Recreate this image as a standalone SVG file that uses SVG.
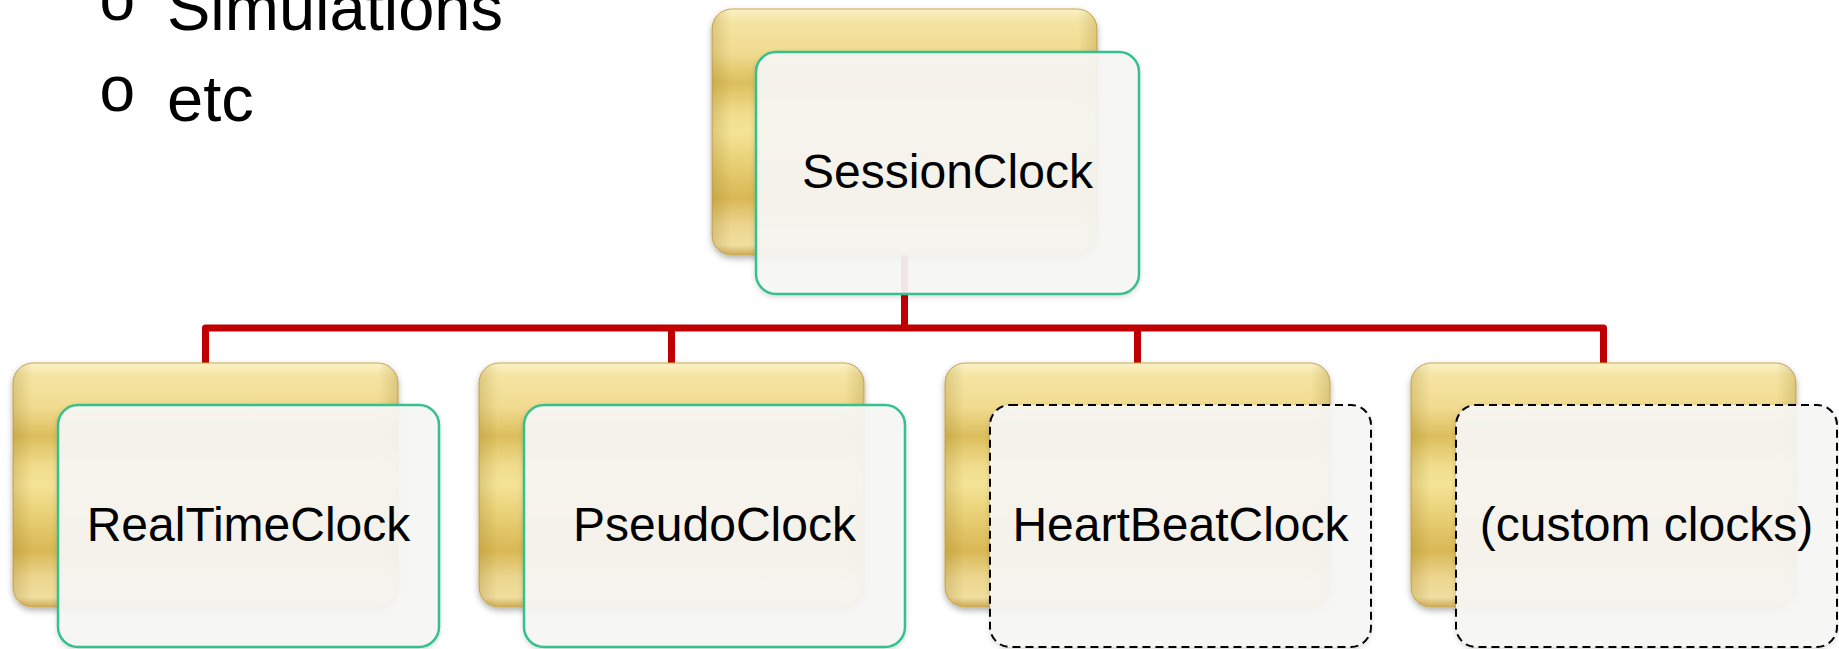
<svg xmlns="http://www.w3.org/2000/svg" width="1839" height="649" viewBox="0 0 1839 649">
<defs>
<linearGradient id="goldV" x1="0" y1="0" x2="0" y2="1">
<stop offset="0" stop-color="#fbf2c6"/>
<stop offset="0.05" stop-color="#f5e4a2"/>
<stop offset="0.18" stop-color="#f0db90"/>
<stop offset="0.30" stop-color="#dcbe5c"/>
<stop offset="0.42" stop-color="#f0dc8c"/>
<stop offset="0.50" stop-color="#f4e396"/>
<stop offset="0.63" stop-color="#e8ce74"/>
<stop offset="0.77" stop-color="#d9b855"/>
<stop offset="0.88" stop-color="#ecd68f"/>
<stop offset="0.96" stop-color="#f0dea0"/>
<stop offset="1" stop-color="#ccac58"/>
</linearGradient>
<linearGradient id="goldH" x1="0" y1="0" x2="1" y2="0">
<stop offset="0" stop-color="#8a6a10" stop-opacity="0.22"/>
<stop offset="0.05" stop-color="#8a6a10" stop-opacity="0"/>
<stop offset="0.95" stop-color="#8a6a10" stop-opacity="0"/>
<stop offset="1" stop-color="#8a6a10" stop-opacity="0.22"/>
</linearGradient>
<filter id="shadow" x="-5%" y="-5%" width="110%" height="115%">
<feDropShadow dx="0" dy="3" stdDeviation="3" flood-color="#000" flood-opacity="0.3"/>
</filter>
<filter id="shadow2" x="-5%" y="-5%" width="110%" height="115%">
<feDropShadow dx="0" dy="2" stdDeviation="2.5" flood-color="#000" flood-opacity="0.15"/>
</filter>
</defs>
<style>
.gold{fill:url(#goldV);stroke:#c9a84c;stroke-width:1;filter:url(#shadow)}
.goldH{fill:url(#goldH)}
.front{fill:#f6f6f4;fill-opacity:0.93;stroke:#35c08e;stroke-width:2.5;filter:url(#shadow2)}
.dash{fill:#f6f6f4;fill-opacity:0.93;stroke:#000;stroke-width:2;stroke-dasharray:8 5;filter:url(#shadow2)}
.lbl{font-family:"Liberation Sans",Arial,sans-serif;font-size:48px;fill:#000;text-anchor:middle}
.bul{font-family:"Liberation Sans",Arial,sans-serif;font-size:64px;fill:#000}
.txt{font-family:"Liberation Sans",Arial,sans-serif;font-size:65px;fill:#000}
.conn{fill:none;stroke:#c00000;stroke-width:7;stroke-linejoin:round}
</style>
<g id="bullets">
<text class="bul" x="99.5" y="20">o</text>
<text class="txt" x="167" y="30">Simulations</text>
<text class="bul" x="99.5" y="111">o</text>
<text class="txt" x="167" y="120.5">etc</text>
</g>
<g id="connectors">
<path class="conn" d="M904.5 255 V328"/>
<path class="conn" d="M205.5 363 V328 H1603.5 V363"/>
<path class="conn" d="M671.5 328 V363"/>
<path class="conn" d="M1137.5 328 V363"/>
</g>
<g id="node-sessionclock">
<rect class="gold" x="712" y="9" width="385" height="246" rx="20"/>
<rect class="goldH" x="712" y="9" width="385" height="246" rx="20"/>
<rect class="front" x="756" y="52" width="383" height="242" rx="20"/>
<text class="lbl" x="947.5" y="188">SessionClock</text>
</g>
<g id="node-realtimeclock">
<rect class="gold" x="13" y="363" width="385" height="244" rx="20"/>
<rect class="goldH" x="13" y="363" width="385" height="244" rx="20"/>
<rect class="front" x="58" y="405" width="381" height="242" rx="20"/>
<text class="lbl" x="248.5" y="541">RealTimeClock</text>
</g>
<g id="node-pseudoclock">
<rect class="gold" x="479" y="363" width="385" height="244" rx="20"/>
<rect class="goldH" x="479" y="363" width="385" height="244" rx="20"/>
<rect class="front" x="524" y="405" width="381" height="242" rx="20"/>
<text class="lbl" x="714.5" y="541">PseudoClock</text>
</g>
<g id="node-heartbeatclock">
<rect class="gold" x="945" y="363" width="385" height="244" rx="20"/>
<rect class="goldH" x="945" y="363" width="385" height="244" rx="20"/>
<rect class="dash" x="990" y="405" width="381" height="242" rx="20"/>
<text class="lbl" x="1180.5" y="541">HeartBeatClock</text>
</g>
<g id="node-customclocks">
<rect class="gold" x="1411" y="363" width="385" height="244" rx="20"/>
<rect class="goldH" x="1411" y="363" width="385" height="244" rx="20"/>
<rect class="dash" x="1456" y="405" width="381" height="242" rx="20"/>
<text class="lbl" x="1646.5" y="541">(custom clocks)</text>
</g>
</svg>
